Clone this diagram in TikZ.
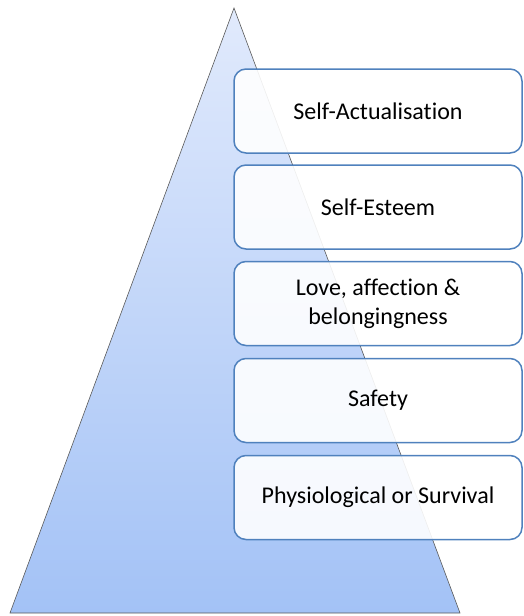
\documentclass[tikz,border=0pt]{standalone}
\usepackage{fontspec}
\setmainfont{Carlito}[RawFeature=-liga]
\usepackage{tikz}

\definecolor{boxblue}{RGB}{79,129,189}
\definecolor{toplight}{RGB}{225,234,252}
\definecolor{basedark}{RGB}{163,194,246}

\begin{document}
\begin{tikzpicture}[x=1pt, y=-1pt, level node/.style={rectangle, rounded corners=12pt, draw=boxblue, line width=1.5pt, fill=white, fill opacity=0.9, draw opacity=1, text opacity=1, minimum width=288pt, minimum height=84pt, align=center, font=\fontsize{24}{29}\selectfont}]

\useasboundingbox (0,0) rectangle (523,616);

% pyramid
\coordinate (apex) at (234,8);
\coordinate (bl) at (10,613);
\coordinate (br) at (460,613);
\shade[top color=toplight, bottom color=basedark, draw=black!65, line width=0.6pt] (apex) -- (br) -- (bl) -- cycle;

\node[level node](1) at (378,111) {Self-Actualisation};
\node[level node](2) at (378,207) {Self-Esteem};
\node[level node](3) at (378,303.5) {Love, affection \&\\belongingness};
\node[level node](4) at (378,400.5) {Safety};
\node[level node](5) at (378,497.5) {Physiological or Survival};

\end{tikzpicture}
\end{document}
